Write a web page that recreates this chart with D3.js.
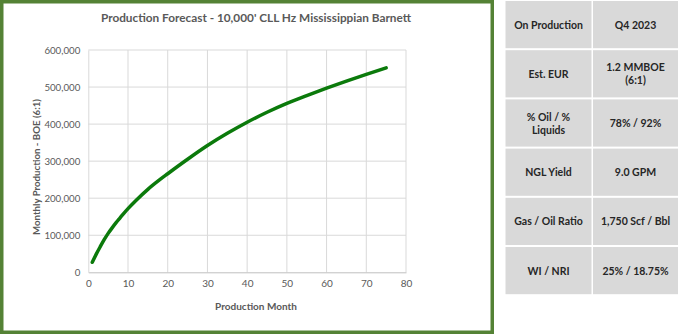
<!DOCTYPE html>
<html><head><meta charset="utf-8">
<script src="https://cdn.jsdelivr.net/npm/d3@7"></script>
<style>
html,body{margin:0;padding:0;background:#fff;}
svg{display:block;}
</style></head>
<body>
<svg id="c" width="680" height="335"></svg>
<script>
const months = [1,2,3,4,5,6,7,8,9,10,12,15,18,20,25,30,35,40,45,50,55,60,65,70,75];
const production = [27000,49000,69000,88000,105000,120000,134000,147000,160000,172000,194000,224000,250000,266000,305000,342000,375000,405000,432000,456000,477000,497000,516000,534000,552000];
const xTicks = [0,10,20,30,40,50,60,70,80];
const yTicks = [0,100000,200000,300000,400000,500000,600000];
const tableLabels = ["On Production","Est. EUR","% Oil / %\nLiquids","NGL Yield","Gas / Oil Ratio","WI / NRI"];
const tableValues = ["Q4 2023","1.2 MMBOE\n(6:1)","78% / 92%","9.0 GPM","1,750 Scf / Bbl","25% / 18.75%"];

const svg = d3.select("#c");
const font = "Lato, 'Open Sans', sans-serif";

// chart frame
svg.append("rect").attr("x",1.75).attr("y",1.75).attr("width",490.5).attr("height",330.5)
  .attr("fill","#fff").attr("stroke","#548235").attr("stroke-width",3.5);

const x = d3.scaleLinear().domain([0,80]).range([88.3,406]);
const y = d3.scaleLinear().domain([0,600000]).range([272.3,50]);

// grid
svg.append("g").selectAll("line").data(yTicks.slice(1)).join("line")
  .attr("x1",x(0)).attr("x2",x(80)).attr("y1",d=>y(d)).attr("y2",d=>y(d))
  .attr("stroke","#d9d9d9").attr("stroke-width",1);
svg.append("g").selectAll("line").data(xTicks.slice(1)).join("line")
  .attr("x1",d=>x(d)).attr("x2",d=>x(d)).attr("y1",y(0)).attr("y2",y(600000))
  .attr("stroke","#d9d9d9").attr("stroke-width",1);

// axes
const xAxis = svg.append("g").attr("transform",`translate(0,${y(0)})`)
  .call(d3.axisBottom(x).tickValues(xTicks).tickSize(0).tickPadding(8));
xAxis.select(".domain").attr("stroke","#bfbfbf");
xAxis.selectAll("text").attr("fill","#595959").attr("font-size","10px").attr("font-family",font);

const yAxis = svg.append("g").attr("transform",`translate(${x(0)},0)`)
  .call(d3.axisLeft(y).tickValues(yTicks).tickSize(0).tickPadding(8).tickFormat(d3.format(",")));
yAxis.select(".domain").attr("stroke","#d9d9d9");
yAxis.selectAll("text").attr("fill","#595959").attr("font-size","9.7px").attr("font-family",font);

// line
svg.append("path").datum(months.map((m,i)=>[m,production[i]]))
  .attr("fill","none").attr("stroke","#0b7a0b").attr("stroke-width",3.5).attr("stroke-linecap","round")
  .attr("d",d3.line().x(d=>x(d[0])).y(d=>y(d[1])).curve(d3.curveMonotoneX));

// titles
svg.append("text").attr("x",256).attr("y",22).attr("text-anchor","middle")
  .attr("font-family",font).attr("font-weight","bold").attr("font-size","11.8px").attr("fill","#595959")
  .text("Production Forecast - 10,000' CLL Hz Mississippian Barnett");
svg.append("text").attr("x",256).attr("y",310).attr("text-anchor","middle")
  .attr("font-family",font).attr("font-weight","bold").attr("font-size","10px").attr("fill","#595959")
  .text("Production Month");
svg.append("text").attr("transform",`translate(40,167) rotate(-90)`).attr("text-anchor","middle")
  .attr("font-family",font).attr("font-weight","bold").attr("font-size","9.7px").attr("fill","#595959")
  .text("Monthly Production - BOE (6:1)");

// table
const rowTop = 1, rowH = 49.2;
const cols = [{x:505.5,w:86},{x:593,w:85}];
tableLabels.forEach((lab,i)=>{
  [lab, tableValues[i]].forEach((txt,c)=>{
    const cx = cols[c].x, cy = rowTop + i*rowH;
    svg.append("rect").attr("x",cx).attr("y",cy).attr("width",cols[c].w).attr("height",rowH-2)
      .attr("fill","#d9d9d9");
    const lines = txt.split("\n");
    const t = svg.append("text").attr("text-anchor","middle")
      .attr("font-family",font).attr("font-weight","bold").attr("font-size","10.5px").attr("fill","#262626");
    lines.forEach((ln,k)=>{
      t.append("tspan").attr("x",cx+cols[c].w/2)
        .attr("y",cy+(rowH-2)/2 + 4 + (k-(lines.length-1)/2)*13).text(ln);
    });
  });
});
</script>
</body></html>
